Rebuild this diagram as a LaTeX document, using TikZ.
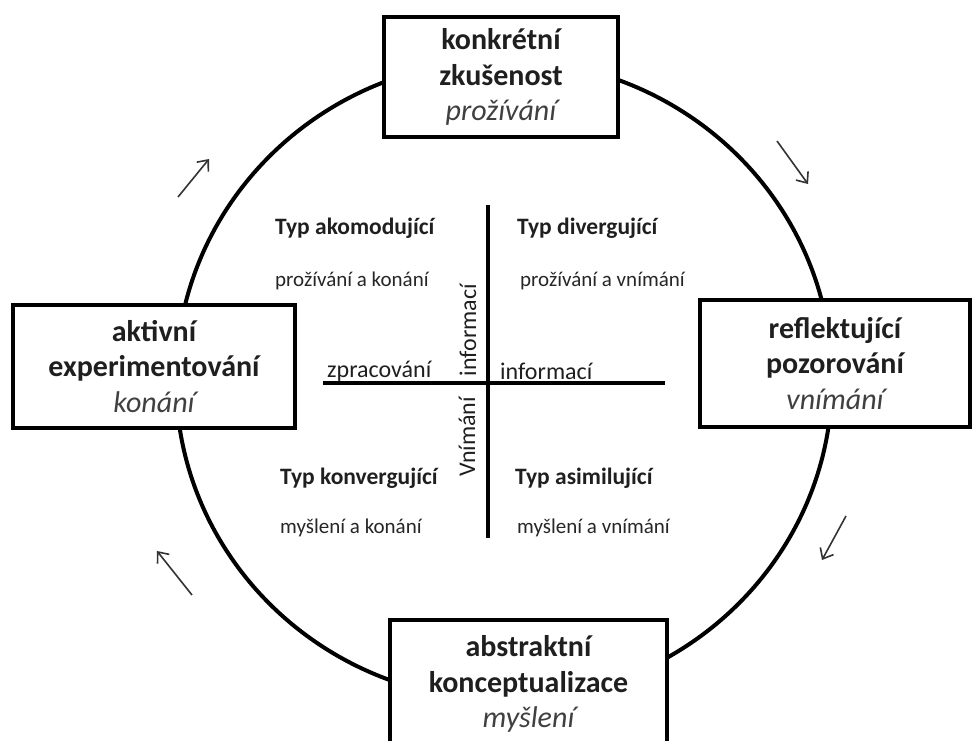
\documentclass[tikz,border=0pt]{standalone}
\usepackage{fontspec}
\setmainfont{Carlito}
\usetikzlibrary{arrows.meta}

\begin{document}
\begin{tikzpicture}[x=1pt, y=-1pt,
      box/.style={draw, line width=4.5pt, fill=white, align=center, inner sep=0pt, font=\fontsize{30}{35.5}\selectfont\bfseries, text=black!88},
      typ/.style={anchor=west, inner sep=0pt, font=\fontsize{23.5}{27}\selectfont\bfseries, text=black!88},
      popis/.style={anchor=west, inner sep=0pt, font=\fontsize{21}{25}\selectfont, text=black!85},
      osa/.style={inner sep=0pt, font=\fontsize{24}{28}\selectfont, text=black!88},
      smer/.style={-{Straight Barb[length=9pt, width=15pt]}, line width=1.6pt, black!80}]
    \useasboundingbox (0,0) rectangle (972,740);
    \clip (0,0) rectangle (972,740);
    % cycle
    \draw[line width=4pt] (504,380) ellipse [x radius=328pt, y radius=320pt];
    % the four stages
    \node[box, minimum width=234pt, minimum height=120pt] (zkus) at (501,77) {konkrétní\\zkušenost\\{\mdseries\itshape\color{black!75}prožívání}};
    \node[box, minimum width=270pt, minimum height=127pt] (pozor) at (835,363.5) {reflektující\\pozorování\\{\mdseries\itshape\color{black!75}vnímání}};
    \node[box, minimum width=277pt, minimum height=128pt] (konc) at (528.5,684) {abstraktní\\konceptualizace\\{\mdseries\itshape\color{black!75}myšlení}};
    \node[box, minimum width=282pt, minimum height=123pt] (exper) at (154,366.5) {aktivní\\experimentování\\{\mdseries\itshape\color{black!75}konání}};
    % direction of the cycle
    \coordinate (s1) at (178,197); \coordinate (t1) at (209,159);
    \coordinate (s2) at (777,141); \coordinate (t2) at (808,184);
    \coordinate (s3) at (846,516); \coordinate (t3) at (822,560);
    \coordinate (s4) at (192,595); \coordinate (t4) at (157,551);
    \draw[smer] (s1) -- (t1);
    \draw[smer] (s2) -- (t2);
    \draw[smer] (s3) -- (t3);
    \draw[smer] (s4) -- (t4);
    % axes
    \coordinate (osaN) at (488,205); \coordinate (osaS) at (488,538);
    \coordinate (osaW) at (323,383); \coordinate (osaE) at (665,383);
    \draw[line width=4pt] (osaN) -- (osaS);
    \draw[line width=4pt] (osaW) -- (osaE);
    \node[osa, anchor=west] (zprac) at (327,371) {zpracování};
    \node[osa, anchor=west] (infoE) at (500,371) {informací};
    \node[osa, rotate=90] (infoN) at (468,330) {informací};
    \node[osa, rotate=90] (vnim) at (467,437) {Vnímání};
    % learning styles
    \node[typ] (akom) at (275,228) {Typ akomodující};
    \node[popis] (akomP) at (275,281) {prožívání a konání};
    \node[typ] (diver) at (517,228) {Typ divergující};
    \node[popis] (diverP) at (520,281) {prožívání a vnímání};
    \node[typ] (konv) at (280,478) {Typ konvergující};
    \node[popis] (konvP) at (280,528) {myšlení a konání};
    \node[typ] (asim) at (515,478) {Typ asimilující};
    \node[popis] (asimP) at (517,528) {myšlení a vnímání};
  \end{tikzpicture}
\end{document}
